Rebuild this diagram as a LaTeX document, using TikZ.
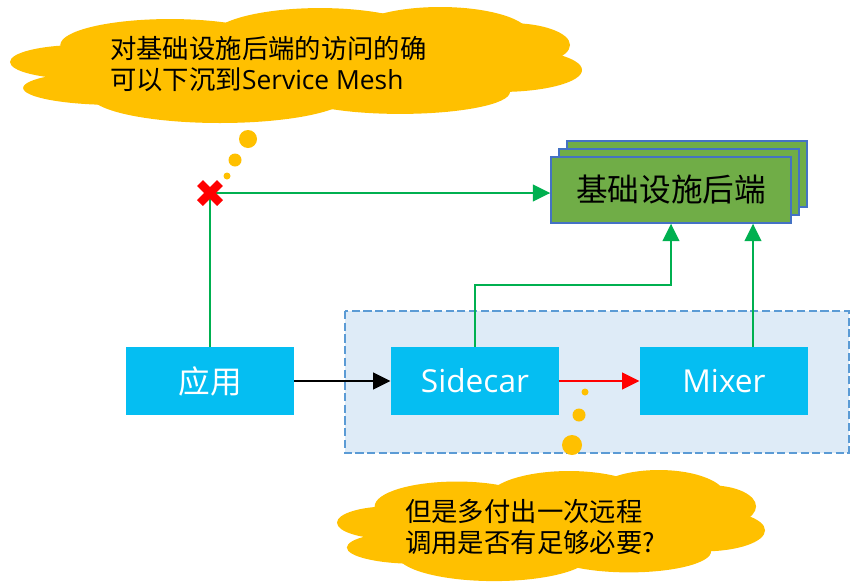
\documentclass[tikz,border=0pt]{standalone}
\usepackage{fontspec}
\setmainfont{Open Sans}
\newfontfamily\cjk{Noto Sans CJK SC}
\usetikzlibrary{calc,positioning}
\usetikzlibrary{arrows.meta}
\definecolor{svccyan}{HTML}{05BEF2}
\definecolor{infragreen}{HTML}{70AD47}
\definecolor{infraedge}{HTML}{4472C4}
\definecolor{linkgreen}{HTML}{00B050}
\definecolor{puffyellow}{HTML}{FFC000}
\definecolor{meshfill}{HTML}{DEEBF7}
\definecolor{meshedge}{HTML}{5B9BD5}
% lobes of a cloud in a unit box: centre u/v, radii
\newcommand{\puffshape}{.122/.466/.122/.144, .184/.686/.161/.144, .367/.746/.227/.237,
    .682/.720/.192/.186, .857/.534/.143/.186, .874/.322/.105/.186, .752/.237/.157/.237,
    .542/.263/.192/.254, .280/.322/.192/.220, .507/.492/.385/.339}

\begin{document}
\begin{tikzpicture}[x=0.03cm,y=-0.03cm,
        svc/.style={fill=svccyan,text=white,minimum width=5.05cm,minimum height=2.05cm,inner sep=0pt,font=\fontsize{27}{32}\selectfont},
        infra/.style={fill=infragreen,draw=infraedge,line width=1pt},
        note/.style={align=left,inner sep=0pt,anchor=west,font=\fontsize{22.5}{26.5}\selectfont\cjk},
        link/.style={line width=2.5pt,-{Triangle[length=15pt,width=14pt]}}
    ]
        \useasboundingbox (0,0) rectangle (850,583);

        % service mesh zone
        \draw[meshedge,fill=meshfill,line width=1.6pt,dash pattern=on 7pt off 3pt] (345,311) rectangle (849,453);

        \node[svc] (app) at (210,381) {\cjk 应用};
        \node[svc] (sidecar) at (475,381) {Sidecar};
        \node[svc] (mixer) at (724,381) {Mixer};

        % stacked backend boxes
        \foreach \d in {16,8}
        {
            \draw[infra] (551+\d,157-\d) rectangle (791+\d,223-\d);
        };
        \node[infra,minimum width=7.2cm,minimum height=1.98cm,inner sep=0pt,font=\fontsize{27}{32}\selectfont\cjk] (infra) at (671,190) {基础设施后端};

        \coordinate (cut) at (210,193);
        \coordinate (bend) at (475,285);
        \coordinate (mixtop) at ($(mixer.north)+(29,0)$);

        \draw[linkgreen,line width=2.5pt] (app.north) -- (cut);
        \draw[linkgreen,link] (cut) -- (cut -| infra.west);
        \draw[linkgreen,link] (sidecar.north) -- (bend) -| (infra.south);
        \draw[linkgreen,link] (mixtop) -- (mixtop |- infra.south);
        \draw[black,link] (app) -- (sidecar);
        \draw[red,link] (sidecar) -- (mixer);

        % red cross
        \draw[red,line width=7pt] ($(cut)+(-10,-10)$) -- ($(cut)+(10,10)$);
        \draw[red,line width=7pt] ($(cut)+(-10,10)$) -- ($(cut)+(10,-10)$);

        % thought clouds
        \begin{scope}[shift={(10,7)},x=17.16cm,y=-3.54cm]
            \foreach \u/\v/\ru/\rv in \puffshape
                \fill[puffyellow] (\u,\v) ellipse ({\ru} and {\rv});
        \end{scope}
        \begin{scope}[shift={(337,470)},x=12.84cm,y=-3.39cm]
            \foreach \u/\v/\ru/\rv in \puffshape
                \fill[puffyellow] (\u,\v) ellipse ({\ru} and {\rv});
        \end{scope}
        \node[note] (notetop) at (110,64) {对基础设施后端的访问的确\\可以下沉到{\rmfamily Service Mesh}};
        \node[note] (notebottom) at (405,527) {但是多付出一次远程\\调用是否有足够必要?};

        \foreach \x/\y/\r in {248/139/9, 235/160/6.5, 227/176/3.5, 585/392/3.5, 579/415/6.5, 572/445/10}
        {
            \fill[puffyellow] (\x,\y) circle (\r);
        };
\end{tikzpicture}
\end{document}
